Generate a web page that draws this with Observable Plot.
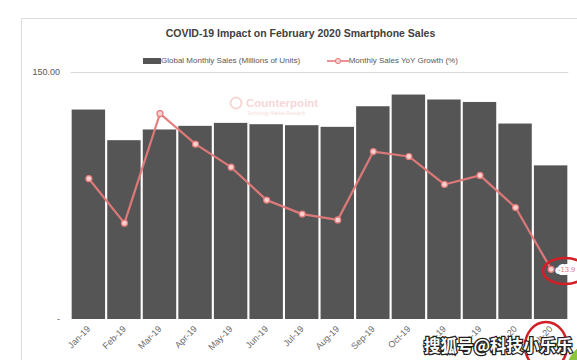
<!DOCTYPE html>
<html>
<head>
<meta charset="utf-8">
<script src="https://cdn.jsdelivr.net/npm/d3@7"></script>
<script src="https://cdn.jsdelivr.net/npm/@observablehq/plot@0.6"></script>
<style>
  html, body { margin: 0; padding: 0; background: #fff; }
  #wrap { position: relative; width: 577px; height: 360px; overflow: hidden; font-family: "Liberation Sans", Arial, sans-serif; }
  #frame { position: absolute; left: 21px; top: 18px; width: 620px; height: 400px; border: 1px solid #dcdcdc; box-sizing: border-box; }
  #title { position: absolute; left: 0; top: 27px; width: 601px; text-align: center; font-weight: bold; font-size: 10.5px; color: #404040; }
  #legend { position: absolute; left: 143px; top: 56px; font-size: 8px; color: #595959; white-space: nowrap; }
  #legend span { display: inline-block; vertical-align: middle; }
  #plot { position: absolute; left: 0; top: 0; }
  #overlay { position: absolute; left: 0; top: 0; pointer-events: none; }
</style>
</head>
<body>
<div id="wrap">
  <div id="frame"></div>
  <div id="plot"></div>
  <div id="title">COVID-19 Impact on February 2020 Smartphone Sales</div>
  <div id="legend">
    <span style="width:18px;height:6px;background:#555;"></span><span>Global Monthly Sales (Millions of Units)</span>
    <span style="width:22px"></span>
    <svg width="22" height="8" style="vertical-align:middle"><line x1="0" y1="4" x2="22" y2="4" stroke="#e57a7a" stroke-width="1.6"/><circle cx="11" cy="4" r="2.6" fill="#f8d0d0" stroke="#e57a7a" stroke-width="1"/></svg><span>Monthly Sales YoY Growth (%)</span>
  </div>
</div>
<script>
const months = ["Jan-19","Feb-19","Mar-19","Apr-19","May-19","Jun-19","Jul-19","Aug-19","Sep-19","Oct-19","Nov-19","Dec-19","Jan-20","Feb-20"];
const sales = [127.2,108.6,115.1,117.3,119.1,118.3,117.7,116.7,129.2,136.3,133.3,131.8,118.7,93.3];
const growth = [-2.9,-8.3,5.0,1.3,-1.5,-5.5,-7.2,-7.9,0.4,-0.2,-3.6,-2.5,-6.4,-13.9];
const yTicks = [0, 150];
const growthDomain = [-20, 10]; // hidden secondary axis
const lastLabel = "-13.9";

const data = months.map((m, i) => ({month: m, sales: sales[i], growth: growth[i]}));
const toPrimary = v => (v - growthDomain[0]) / (growthDomain[1] - growthDomain[0]) * 150;
const lineColor = "#e57a7a";

const chart = Plot.plot({
  width: 577, height: 360,
  marginLeft: 70.6, marginRight: 8.6, marginTop: 72, marginBottom: 41,
  style: {background: "transparent", fontFamily: "Liberation Sans, Arial, sans-serif"},
  x: {domain: months, paddingInner: 0.06, paddingOuter: 0.03, round: false, label: null},
  y: {domain: [0, 150], label: null},
  marks: [
    Plot.gridY([150], {stroke: "#d9d9d9", strokeOpacity: 1, strokeWidth: 1.2}),
    Plot.barY(data, {x: "month", y: "sales", fill: "#555555", inset: 0}),
    Plot.line(data, {x: "month", y: d => toPrimary(d.growth), stroke: lineColor, strokeWidth: 2.2, strokeOpacity: 0.95}),
    Plot.dot(data, {x: "month", y: d => toPrimary(d.growth), r: 3, fill: "#f8d0d0", stroke: lineColor, strokeWidth: 1.2}),
    Plot.axisY(yTicks, {tickSize: 0, tickPadding: 11, tickFormat: d => d === 0 ? "-" : d.toFixed(2), fontSize: 9, fill: "#595959", label: null}),
    Plot.axisX({tickSize: 0, tickRotate: -45, tickPadding: 8, fontSize: 9, fill: "#6a6a6a", label: null}),
    Plot.text(data.slice(-1), {x: "month", y: d => toPrimary(d.growth), text: () => lastLabel, dx: 7, textAnchor: "start", fill: lineColor, fontSize: 7.5, stroke: "white", strokeWidth: 6})
  ]
});
document.getElementById("plot").appendChild(chart);

// decorative overlay: watermarks and hand-drawn annotations from the screenshot
const ov = d3.select("#wrap").append("svg").attr("id", "overlay").attr("width", 577).attr("height", 360);
const cp = ov.append("g").attr("opacity", 0.25);
cp.append("circle").attr("cx", 236).attr("cy", 103).attr("r", 5.5).attr("fill", "none").attr("stroke", "#e06060").attr("stroke-width", 2);
cp.append("text").attr("x", 246).attr("y", 106.5).attr("font-size", 11.5).attr("font-weight", "bold").attr("fill", "#e06060").attr("font-family", "Liberation Sans, Arial, sans-serif").text("Counterpoint");
cp.append("text").attr("x", 247).attr("y", 115).attr("font-size", 4.5).attr("fill", "#e06060").attr("font-family", "Liberation Sans, Arial, sans-serif").text("Technology Market Research");

ov.append("ellipse").attr("cx", 565).attr("cy", 271).attr("rx", 22).attr("ry", 13).attr("fill", "none").attr("stroke", "#d21f26").attr("stroke-width", 2.5);
ov.append("ellipse").attr("cx", 546).attr("cy", 346).attr("rx", 21).attr("ry", 24).attr("fill", "none").attr("stroke", "#d21f26").attr("stroke-width", 2.5);
ov.append("circle").attr("cx", 596).attr("cy", 372).attr("r", 30).attr("fill", "#8cc63f");

ov.append("text").attr("x", 424).attr("y", 352).attr("font-size", 16.5).attr("font-weight", "bold")
  .attr("font-family", "Noto Sans CJK SC, sans-serif")
  .attr("fill", "white").attr("stroke", "#222").attr("stroke-width", 2.5).attr("paint-order", "stroke")
  .text("搜狐号@科技小乐乐");
</script>
</body>
</html>
